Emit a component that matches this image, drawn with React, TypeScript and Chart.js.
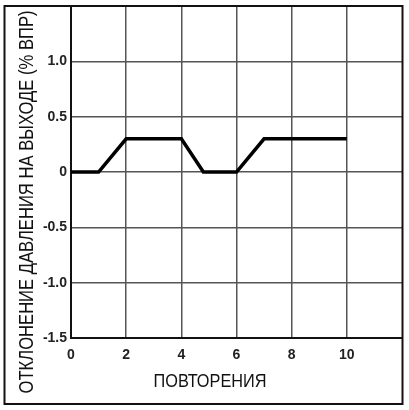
import { useEffect, useRef } from "react";
import Chart from "chart.js/auto";

// repetitions vs. outlet pressure deviation
const xValues = [0, 1, 2, 4, 4.8, 6, 7, 10];
const yValues = [0, 0, 0.3, 0.3, 0, 0, 0.3, 0.3];

const xTicks = [0, 2, 4, 6, 8, 10];
const yTicks = [-1.5, -1.0, -0.5, 0, 0.5, 1.0];

const xTitle = "ПОВТОРЕНИЯ";
const yTitle = "ОТКЛОНЕНИЕ ДАВЛЕНИЯ НА ВЫХОДЕ (% ВПР)";

const tickFont = { family: "'Liberation Sans', Arial, sans-serif", size: 14, weight: "bold" as const };

// axis titles and the outer frame are drawn by hand
const framePlugin = {
  id: "framePlugin",
  afterDraw(chart: Chart) {
    const ctx = chart.ctx;
    ctx.save();
    ctx.strokeStyle = "#111";
    ctx.lineWidth = 2;
    ctx.strokeRect(4.5, 6, 398, 398);

    ctx.fillStyle = "#111";
    ctx.textAlign = "center";
    ctx.textBaseline = "alphabetic";
    ctx.font = "18px 'Liberation Sans', Arial, sans-serif";
    ctx.fillText(xTitle, 210, 387, 113);

    ctx.font = "20px 'Liberation Sans', Arial, sans-serif";
    ctx.translate(33, 202);
    ctx.rotate(-Math.PI / 2);
    ctx.fillText(yTitle, 0, 0, 383);
    ctx.restore();
  },
};

const App = () => {
  const canvasRef = useRef<HTMLCanvasElement | null>(null);
  const chartRef = useRef<Chart | null>(null);

  useEffect(() => {
    document.body.style.margin = "0";
    if (!canvasRef.current) return;
    if (chartRef.current) chartRef.current.destroy();

    const ctx = canvasRef.current.getContext("2d");
    if (!ctx) return;

    chartRef.current = new Chart(ctx, {
      type: "line",
      data: {
        datasets: [
          {
            data: xValues.map((x, i) => ({ x, y: yValues[i] })),
            borderColor: "#000",
            borderWidth: 3.5,
            pointRadius: 0,
            tension: 0,
            fill: false,
          },
        ],
      },
      options: {
        animation: false,
        responsive: true,
        maintainAspectRatio: false,
        layout: { padding: { left: 0, top: 6, right: 7, bottom: 0 } },
        plugins: {
          legend: { display: false },
          tooltip: { enabled: false },
        },
        scales: {
          x: {
            type: "linear",
            min: 0,
            max: 12,
            afterFit: (scale: any) => {
              scale.height = 72;
              scale.paddingLeft = 0;
              scale.paddingRight = 0;
            },
            afterBuildTicks: (scale: any) => {
              scale.ticks = [...xTicks, 12].map((v) => ({ value: v }));
            },
            grid: {
              color: "#555",
              lineWidth: 1.5,
              drawTicks: false,
            },
            border: { color: "#111", width: 2 },
            ticks: {
              padding: 9,
              color: "#222",
              font: tickFont,
              maxRotation: 0,
              callback: (v: any) => (xTicks.includes(Number(v)) ? String(v) : null),
            },
          },
          y: {
            min: -1.5,
            max: 1.5,
            afterFit: (scale: any) => {
              scale.width = 71;
              scale.paddingTop = 0;
              scale.paddingBottom = 0;
            },
            afterBuildTicks: (scale: any) => {
              scale.ticks = [...yTicks, 1.5].map((v) => ({ value: v }));
            },
            grid: {
              color: "#555",
              lineWidth: 1.5,
              drawTicks: false,
            },
            border: { color: "#111", width: 2 },
            ticks: {
              padding: 4,
              color: "#222",
              font: tickFont,
              callback: (v: any) => {
                const n = Number(v);
                if (!yTicks.includes(n)) return null;
                return n === 0 ? "0" : n.toFixed(1);
              },
            },
          },
        },
      },
      plugins: [framePlugin],
    });

    return () => {
      if (chartRef.current) {
        chartRef.current.destroy();
        chartRef.current = null;
      }
    };
  }, []);

  return (
    <div style={{ position: "relative", width: 409, height: 410, background: "#fff" }}>
      <canvas ref={canvasRef} />
    </div>
  );
};

export default App;
